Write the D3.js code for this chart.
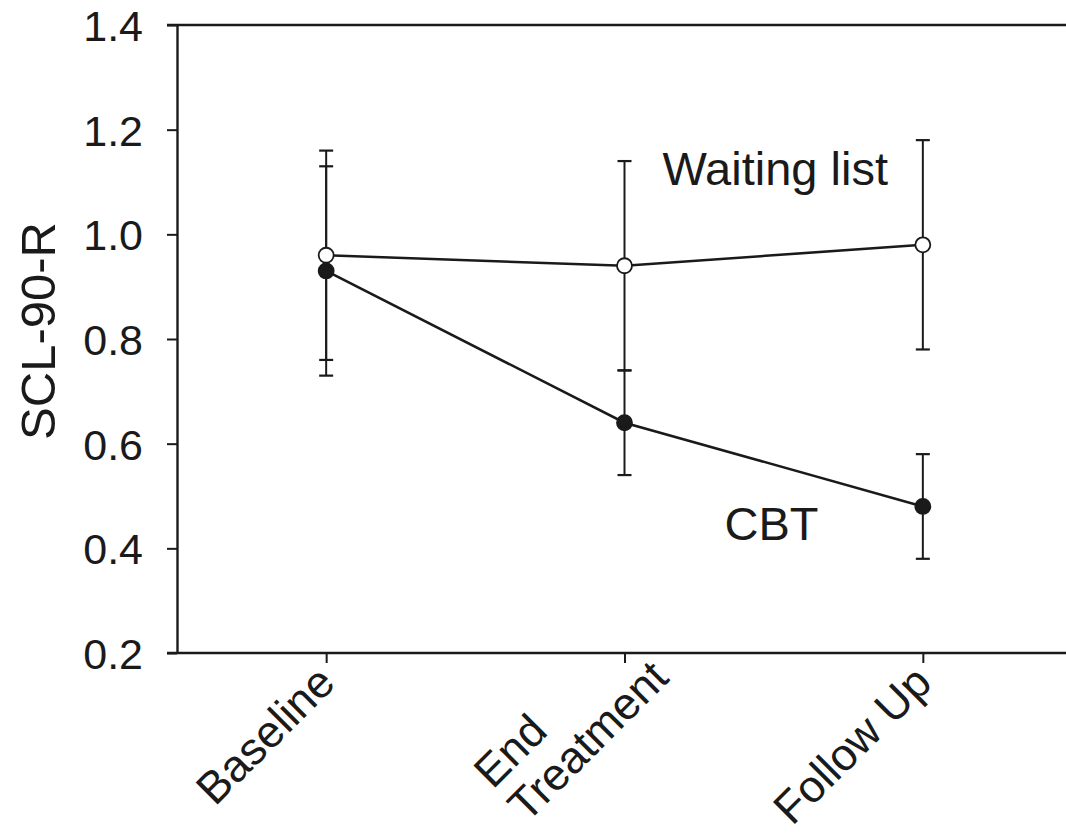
<!DOCTYPE html>
<html>
<head>
<meta charset="utf-8">
<script src="https://cdn.jsdelivr.net/npm/d3@7"></script>
<style>
  html, body { margin: 0; padding: 0; background: #fff; }
  svg { display: block; }
  text { font-family: "Liberation Sans", Arial, Helvetica, sans-serif; fill: #1a1a1a; }
</style>
</head>
<body>
<svg id="chart" width="1066" height="833"></svg>
<script>
// Assessment points (multi-line labels split on "\n")
const timepoints = ["Baseline", "End\nTreatment", "Follow Up"];

// Mean SCL-90-R scores and error-bar half-widths per group
const waitingMean = [0.96, 0.94, 0.98];
const waitingErr  = [0.20, 0.20, 0.20];
const cbtMean     = [0.93, 0.64, 0.48];
const cbtErr      = [0.20, 0.10, 0.10];

const yTicks = [0.2, 0.4, 0.6, 0.8, 1.0, 1.2, 1.4];

const W = 1066, H = 833;
const plot = { left: 177, top: 25, bottom: 653, right: 1072 };
const ink = "#1a1a1a";

const svg = d3.select("#chart");

const x = d3.scalePoint()
  .domain(timepoints)
  .range([plot.left, plot.right])
  .padding(0.5);

const y = d3.scaleLinear()
  .domain([0.2, 1.4])
  .range([plot.bottom, plot.top]);

// Top frame line
svg.append("line")
  .attr("x1", plot.left - 10).attr("x2", W)
  .attr("y1", plot.top).attr("y2", plot.top)
  .attr("stroke", ink).attr("stroke-width", 2.4);

// Y axis
const yAxis = svg.append("g")
  .attr("transform", `translate(${plot.left},0)`)
  .call(d3.axisLeft(y).tickValues(yTicks).tickFormat(d3.format(".1f"))
        .tickSize(10).tickSizeOuter(0).tickPadding(24));
yAxis.select(".domain").attr("stroke", ink).attr("stroke-width", 2.4);
yAxis.selectAll(".tick line").attr("stroke", ink).attr("stroke-width", 2);
yAxis.selectAll(".tick text")
  .attr("font-size", 43)
  .attr("dy", "0.36em")
  .style("fill", ink);

// X axis
const xAxis = svg.append("g")
  .attr("transform", `translate(0,${plot.bottom})`)
  .call(d3.axisBottom(x).tickSize(10).tickSizeOuter(0).tickFormat(""));
xAxis.select(".domain")
  .attr("d", `M${plot.left - 10},0H${W + 10}`)
  .attr("stroke", ink).attr("stroke-width", 2.4);
xAxis.selectAll(".tick line").attr("stroke", ink).attr("stroke-width", 2);

// Rotated, left-aligned category labels
const labelSize = 45, lineH = 48;
timepoints.forEach(name => {
  const lines = name.split("\n");
  const n = lines.length - 1;
  const g = svg.append("g")
    .attr("transform", `translate(${x(name) + 11 + n * 35},${plot.bottom + 32 - n * 5}) rotate(-45)`);
  const texts = lines.map((ln, i) => g.append("text")
    .attr("font-size", labelSize)
    .attr("y", (i - n) * lineH)
    .text(ln));
  const maxW = d3.max(texts, t => t.node().getComputedTextLength());
  texts.forEach(t => t.attr("x", -maxW));
});

// Y axis title
svg.append("text")
  .attr("transform", `translate(55,${(plot.top + plot.bottom) / 2 - 8}) rotate(-90)`)
  .attr("text-anchor", "middle")
  .attr("font-size", 49)
  .text("SCL-90-R");

// Series
const series = [
  { mean: waitingMean, err: waitingErr, fill: "#fff" },
  { mean: cbtMean, err: cbtErr, fill: ink }
];

const line = d3.line()
  .x((d, i) => x(timepoints[i]))
  .y(d => y(d));

series.forEach(s => {
  svg.append("path")
    .datum(s.mean)
    .attr("d", line)
    .attr("fill", "none")
    .attr("stroke", ink)
    .attr("stroke-width", 2.5);
});

const capHalf = 7;
series.forEach(s => {
  const eb = svg.append("g");
  s.mean.forEach((m, i) => {
    const cx = x(timepoints[i]);
    const lo = y(m - s.err[i]), hi = y(m + s.err[i]);
    eb.append("line").attr("x1", cx).attr("x2", cx).attr("y1", lo).attr("y2", hi)
      .attr("stroke", ink).attr("stroke-width", 2);
    [lo, hi].forEach(v => eb.append("line")
      .attr("x1", cx - capHalf).attr("x2", cx + capHalf)
      .attr("y1", v).attr("y2", v)
      .attr("stroke", ink).attr("stroke-width", 2.2));
  });
});

series.forEach(s => {
  svg.append("g").selectAll("circle")
    .data(s.mean)
    .join("circle")
    .attr("cx", (d, i) => x(timepoints[i]))
    .attr("cy", d => y(d))
    .attr("r", 7.5)
    .attr("fill", s.fill)
    .attr("stroke", ink)
    .attr("stroke-width", 1.8);
});

// Group labels
svg.append("text")
  .attr("x", x(timepoints[1]) + 38)
  .attr("y", y(1.094))
  .attr("font-size", 47)
  .text("Waiting list");

svg.append("text")
  .attr("x", x(timepoints[1]) + 100)
  .attr("y", y(0.416))
  .attr("font-size", 47)
  .text("CBT");
</script>
</body>
</html>
